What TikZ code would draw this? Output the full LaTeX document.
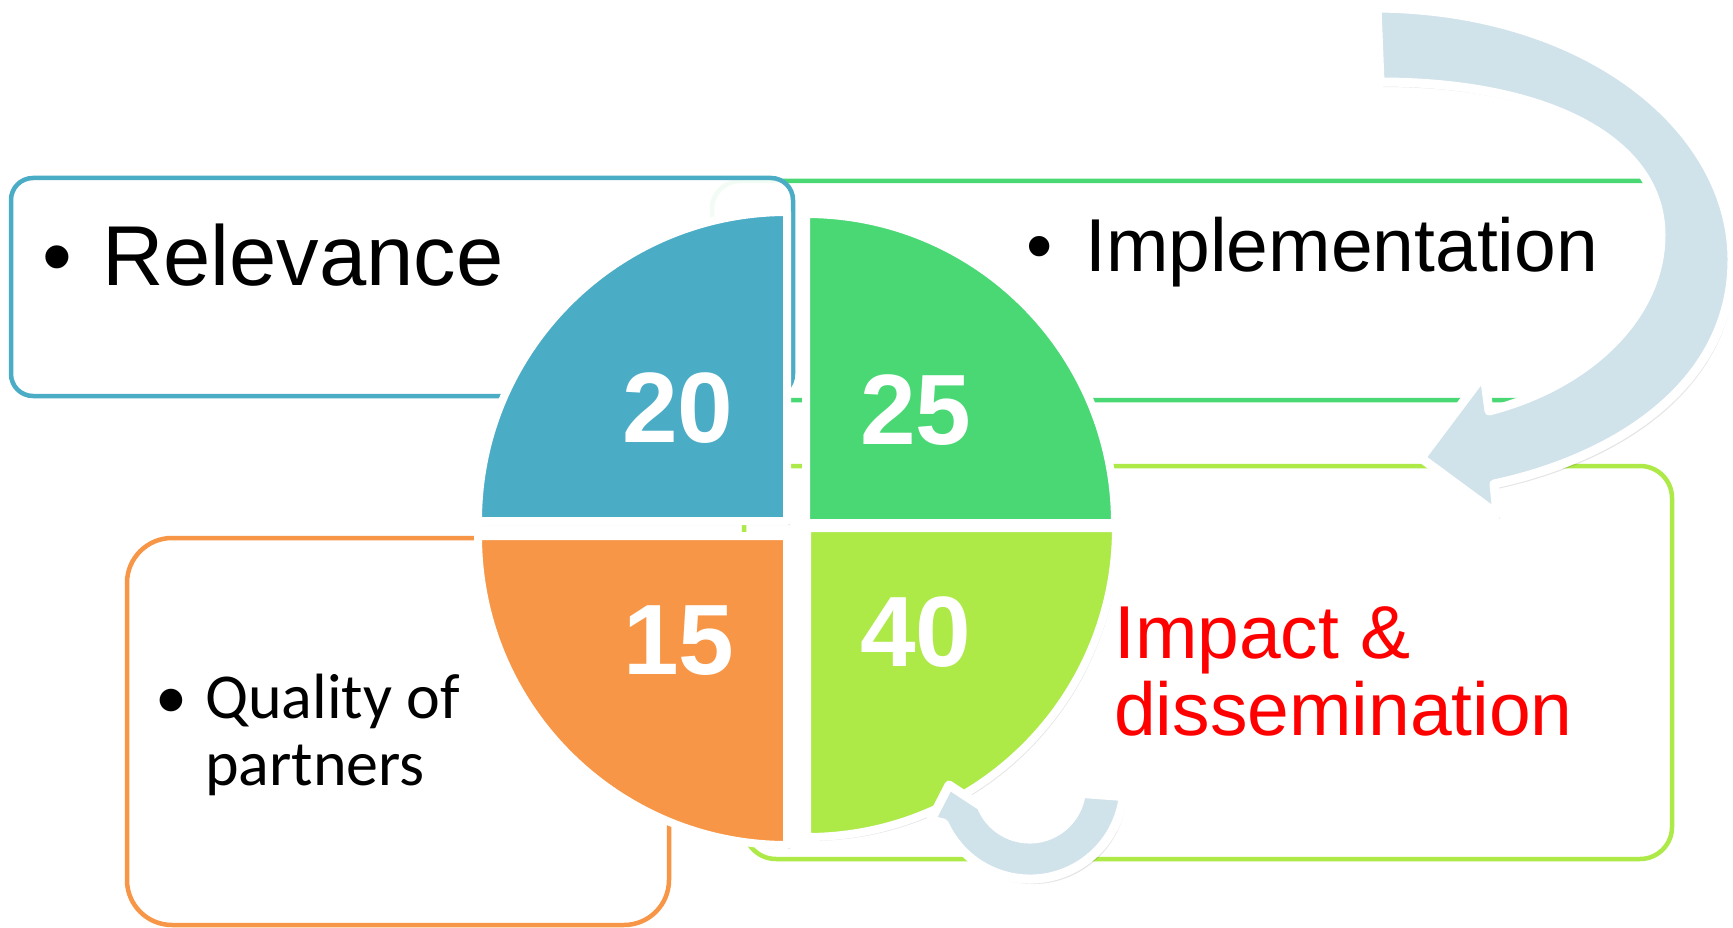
\documentclass[tikz,border=0pt]{standalone}
\usepackage{fontspec}
\newfontfamily\arialf{Liberation Sans}
\newfontfamily\calibf{Carlito}
\definecolor{cblue}{HTML}{4BACC6}
\definecolor{cgreen}{HTML}{4AD875}
\definecolor{corange}{HTML}{F79646}
\definecolor{clime}{HTML}{ADE947}
\definecolor{carrow}{HTML}{D0E2EA}
\begin{document}
\begin{tikzpicture}[x=1pt,y=-1pt,
  boxsty/.style={line width=4.5pt, fill=white},
  quadsty/.style={draw=white, line width=8pt, line join=round},
  shadowsty/.style={fill=black, fill opacity=0.10},
  arrowsty/.style={draw=white, line width=9pt, line join=round, fill=carrow},
  numsty/.style={text=white, font=\arialf\bfseries\fontsize{100}{100}\selectfont, inner sep=0pt, anchor=base},
  bigtxt/.style={font=\arialf\fontsize{85}{85}\selectfont, inner sep=0pt},
  midtxt/.style={font=\arialf\fontsize{75}{75}\selectfont, inner sep=0pt},
  redtxt/.style={font=\arialf\fontsize{75}{75}\selectfont, text=red, inner sep=0pt, anchor=base west},
  caltxt/.style={font=\calibf\fontsize{64}{64}\selectfont, inner sep=0pt},
  qblue/.style={insert path={(787,521) -- ++(-309,0) arc[start angle=180,end angle=270,radius=309] -- cycle}},
  qgreen/.style={insert path={(806,523) -- ++(0,-309) arc[start angle=270,end angle=360,radius=309] -- cycle}},
  qorange/.style={insert path={(787,536) -- ++(-309,0) arc[start angle=180,end angle=90,radius=309] -- cycle}},
  qlime/.style={insert path={(807,528) -- ++(309,0) arc[start angle=0,end angle=90,radius=309] -- cycle}},
  bigarrow/.style={insert path={(1377,8) .. controls (1590,10) and (1732,130) .. (1732,260) .. controls (1732,382) and (1620,457) .. (1494,484) -- (1497,514) -- (1421,458) -- (1484,374) -- (1489,411) .. controls (1590,385) and (1661,315) .. (1661,235) .. controls (1661,142) and (1550,82) .. (1380,82) -- cycle}},
  smallarrow/.style={insert path={(1123.3,796.5) arc[start angle=7,end angle=156,radius=94] -- (931,820) -- (949,785) -- (987,810) -- (982.1,808.2) arc[start angle=156,end angle=7,radius=52] -- cycle}}
]
\fill[white] (0,0) rectangle (1733,928);
\useasboundingbox (0,0) rectangle (1733,928);

% boxes
\draw[boxsty, draw=cgreen, rounded corners=28] (712,181) rectangle (1672,400);
\draw[boxsty, draw=clime, rounded corners=32] (744,466) rectangle (1672,859);
\draw[boxsty, draw=cblue, fill opacity=0.93, rounded corners=22] (11,178) rectangle (793,396);
\draw[boxsty, draw=corange, rounded corners=45] (127,538) rectangle (669,925);

% texts in boxes
\node[bigtxt, anchor=base] (b1) at (57,285) {•};
\node[bigtxt, anchor=base west] (relevance) at (102,285) {Relevance};
\node[midtxt, anchor=base] (b2) at (1040,272) {•};
\node[midtxt, anchor=base west] (implementation) at (1085,272) {Implementation};
\node[redtxt] (impact1) at (1114,658) {Impact \&};
\node[redtxt] (impact2) at (1114,735) {dissemination};
\node[caltxt, anchor=base] (b3) at (171,718) {•};
\node[caltxt, anchor=base west] (quality1) at (205,718) {Quality of};
\node[caltxt, anchor=base west] (quality2) at (205,785) {partners};

% pie quadrants
\fill[shadowsty, shift={(3,4)}, qblue];
\fill[shadowsty, shift={(3,4)}, qgreen];
\fill[shadowsty, shift={(3,4)}, qorange];
\fill[shadowsty, shift={(3,4)}, qlime];
\path[quadsty, fill=cblue, qblue];
\path[quadsty, fill=cgreen, qgreen];
\path[quadsty, fill=corange, qorange];
\path[quadsty, fill=clime, qlime];

% numbers
\node[numsty] (n20) at (678,442) {20};
\node[numsty] (n25) at (916,444) {25};
\node[numsty] (n15) at (679,674) {15};
\node[numsty] (n40) at (916,666) {40};

% arrows
\fill[shadowsty, shift={(3,5)}, bigarrow];
\path[arrowsty, bigarrow];
\fill[shadowsty, shift={(3,5)}, smallarrow];
\path[arrowsty, smallarrow];
\end{tikzpicture}
\end{document}
